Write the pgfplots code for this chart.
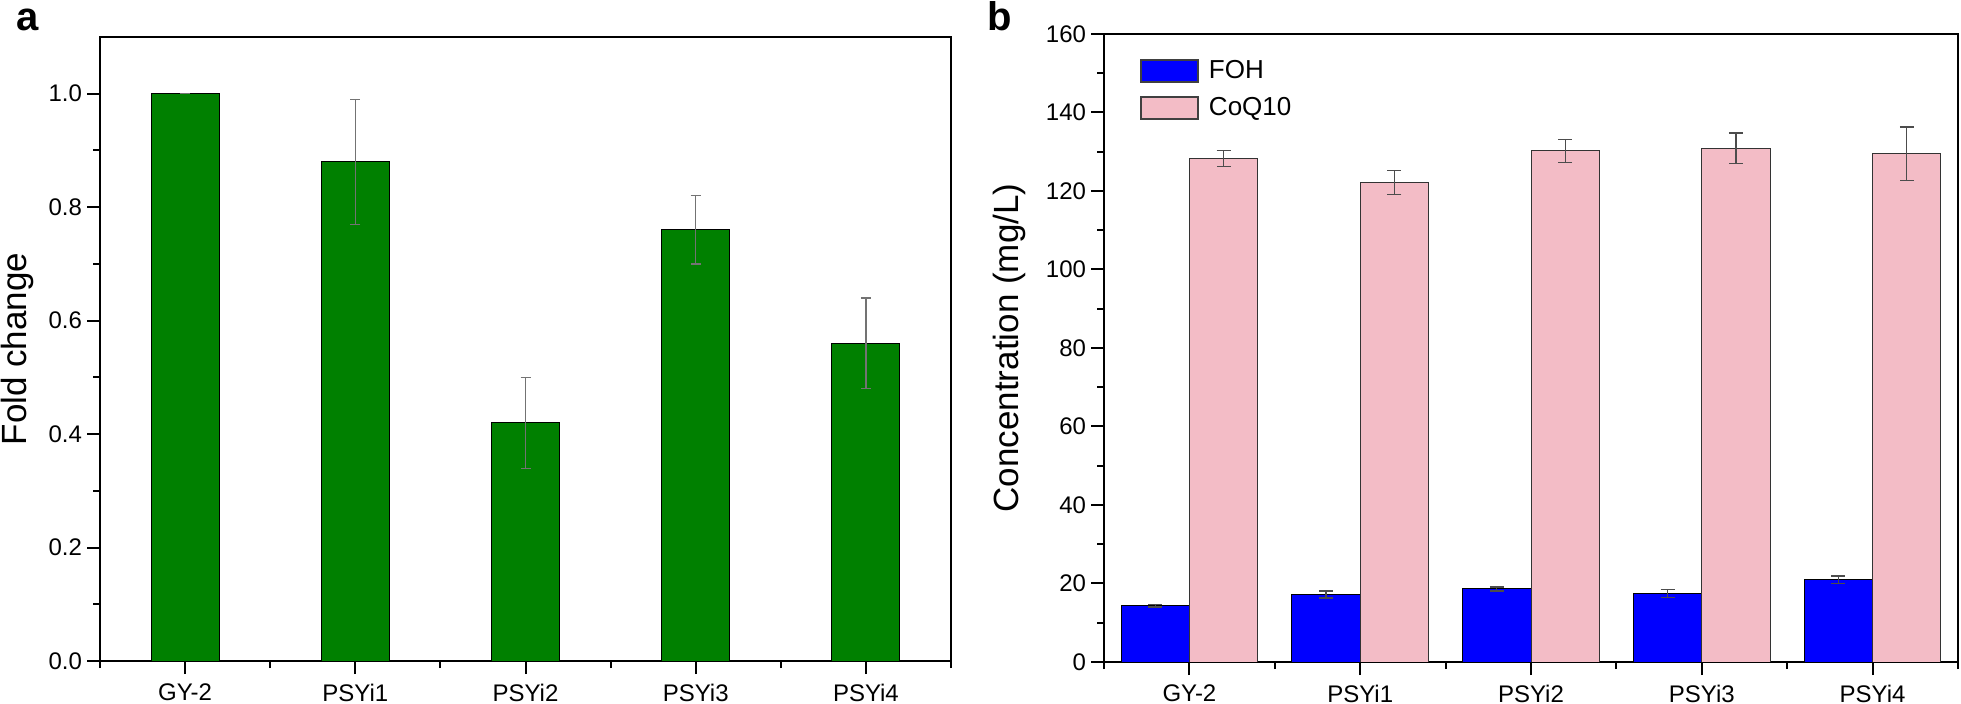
\documentclass[border=0pt]{standalone}
\usepackage{pgfplots}
\pgfplotsset{compat=1.18}
\usepackage{pgfplotstable}
\usepackage{fontspec}
\setmainfont{Liberation Sans}
\definecolor{barGreen}{RGB}{0,128,0}
\definecolor{barBlue}{RGB}{0,0,255}
\definecolor{barPink}{RGB}{243,188,198}

\pgfplotstableread{
x y e
1 1.00 0
2 0.88 0.11
3 0.42 0.08
4 0.76 0.06
5 0.56 0.08
}\foldtable

\pgfplotstableread{
x y e
1 14.3 0.3
2 17.2 0.9
3 18.6 0.5
4 17.4 1.0
5 21.0 0.9
}\fohtable

\pgfplotstableread{
x y e
1 128.3 2.0
2 122.2 3.0
3 130.2 3.0
4 130.9 3.9
5 129.5 6.8
}\coqtable

\pgfplotsset{
  common/.style={
    scale only axis,
    ybar,
    xmin=0.5, xmax=5.5,
    xtick={1,2,3,4,5},
    xticklabels={GY-2,PSYi1,PSYi2,PSYi3,PSYi4},
    minor xtick={0.5,1.5,2.5,3.5,4.5,5.5},
    xtick pos=bottom, ytick pos=left,
    tick align=outside,
    major tick length=6.5bp, minor tick length=3.5bp,
    axis line style={line width=1bp},
    every tick/.style={black, line width=1bp},
    tick label style={font=\fontsize{12bp}{14bp}\selectfont},
    yticklabel style={xshift=1bp},
    xticklabel style={yshift=-1.5bp},
    /pgf/number format/assume math mode=true,
    ylabel style={font=\fontsize{17.5bp}{20bp}\selectfont},
    minor y tick num=1,
  }
}

\begin{document}
\begin{tikzpicture}
\useasboundingbox (0,0) rectangle (980.5bp,352bp);

\begin{axis}[common,
  at={(50bp,21.5bp)}, anchor=south west,
  width=425.5bp, height=312bp,
  ymin=0, ymax=1.1,
  ytick={0,0.2,0.4,0.6,0.8,1.0},
  yticklabel style={/pgf/number format/.cd, fixed, fixed zerofill, precision=1},
  ylabel={Fold change},
  ylabel style={at={(axis description cs:-0.0975,0.5)}, anchor=center},
]
\addplot[fill=barGreen, draw=black, line width=0.5bp, bar width=0.4, bar shift=0,
  error bars/.cd, y dir=both, y explicit, error mark=|,
  error bar style={line width=0.6bp, black!55},
  error mark options={line width=0.6bp, black!55, mark size=2.5bp}]
  table[x=x, y=y, y error=e]{\foldtable};
\end{axis}

\begin{axis}[common,
  at={(552bp,21bp)}, anchor=south west,
  width=427bp, height=314bp,
  ymin=0, ymax=160,
  ytick={0,20,40,60,80,100,120,140,160},
  ylabel={Concentration (mg/L)},
  ylabel style={at={(axis description cs:-0.111,0.5)}, anchor=center},
  legend style={at={(axis description cs:0,1)}, anchor=north west,
    xshift=18bp, yshift=-11bp, draw=none, fill=none, inner sep=0pt,
    row sep=4bp, font=\fontsize{13bp}{15bp}\selectfont,
    /tikz/every odd column/.append style={column sep=3bp}},
  legend cell align=left,
]
\addplot[fill=barBlue, draw=black, line width=0.5bp, bar width=0.4, bar shift=-0.2,
  legend image code/.code={\draw[fill=barBlue, draw=black!75, line width=0.8bp] (0bp,-5.5bp) rectangle (28.5bp,5.5bp);},
  error bars/.cd, y dir=both, y explicit, error mark=|,
  error bar style={line width=0.6bp, black!70},
  error mark options={line width=0.6bp, black!70, mark size=3.5bp}]
  table[x=x, y=y, y error=e]{\fohtable};
\addlegendentry{FOH}
\addplot[fill=barPink, draw=black!80, line width=0.5bp, bar width=0.4, bar shift=0.2,
  legend image code/.code={\draw[fill=barPink, draw=black!75, line width=0.8bp] (0bp,-5.5bp) rectangle (28.5bp,5.5bp);},
  error bars/.cd, y dir=both, y explicit, error mark=|,
  error bar style={line width=0.6bp, black!70},
  error mark options={line width=0.6bp, black!70, mark size=3.5bp}]
  table[x=x, y=y, y error=e]{\coqtable};
\addlegendentry{CoQ10}
\end{axis}

\node[anchor=base west, font=\bfseries\fontsize{20bp}{24bp}\selectfont, inner sep=0pt] at (8bp,336.5bp) {a};
\node[anchor=base west, font=\bfseries\fontsize{20bp}{24bp}\selectfont, inner sep=0pt] at (493.5bp,336.5bp) {b};
\end{tikzpicture}
\end{document}
